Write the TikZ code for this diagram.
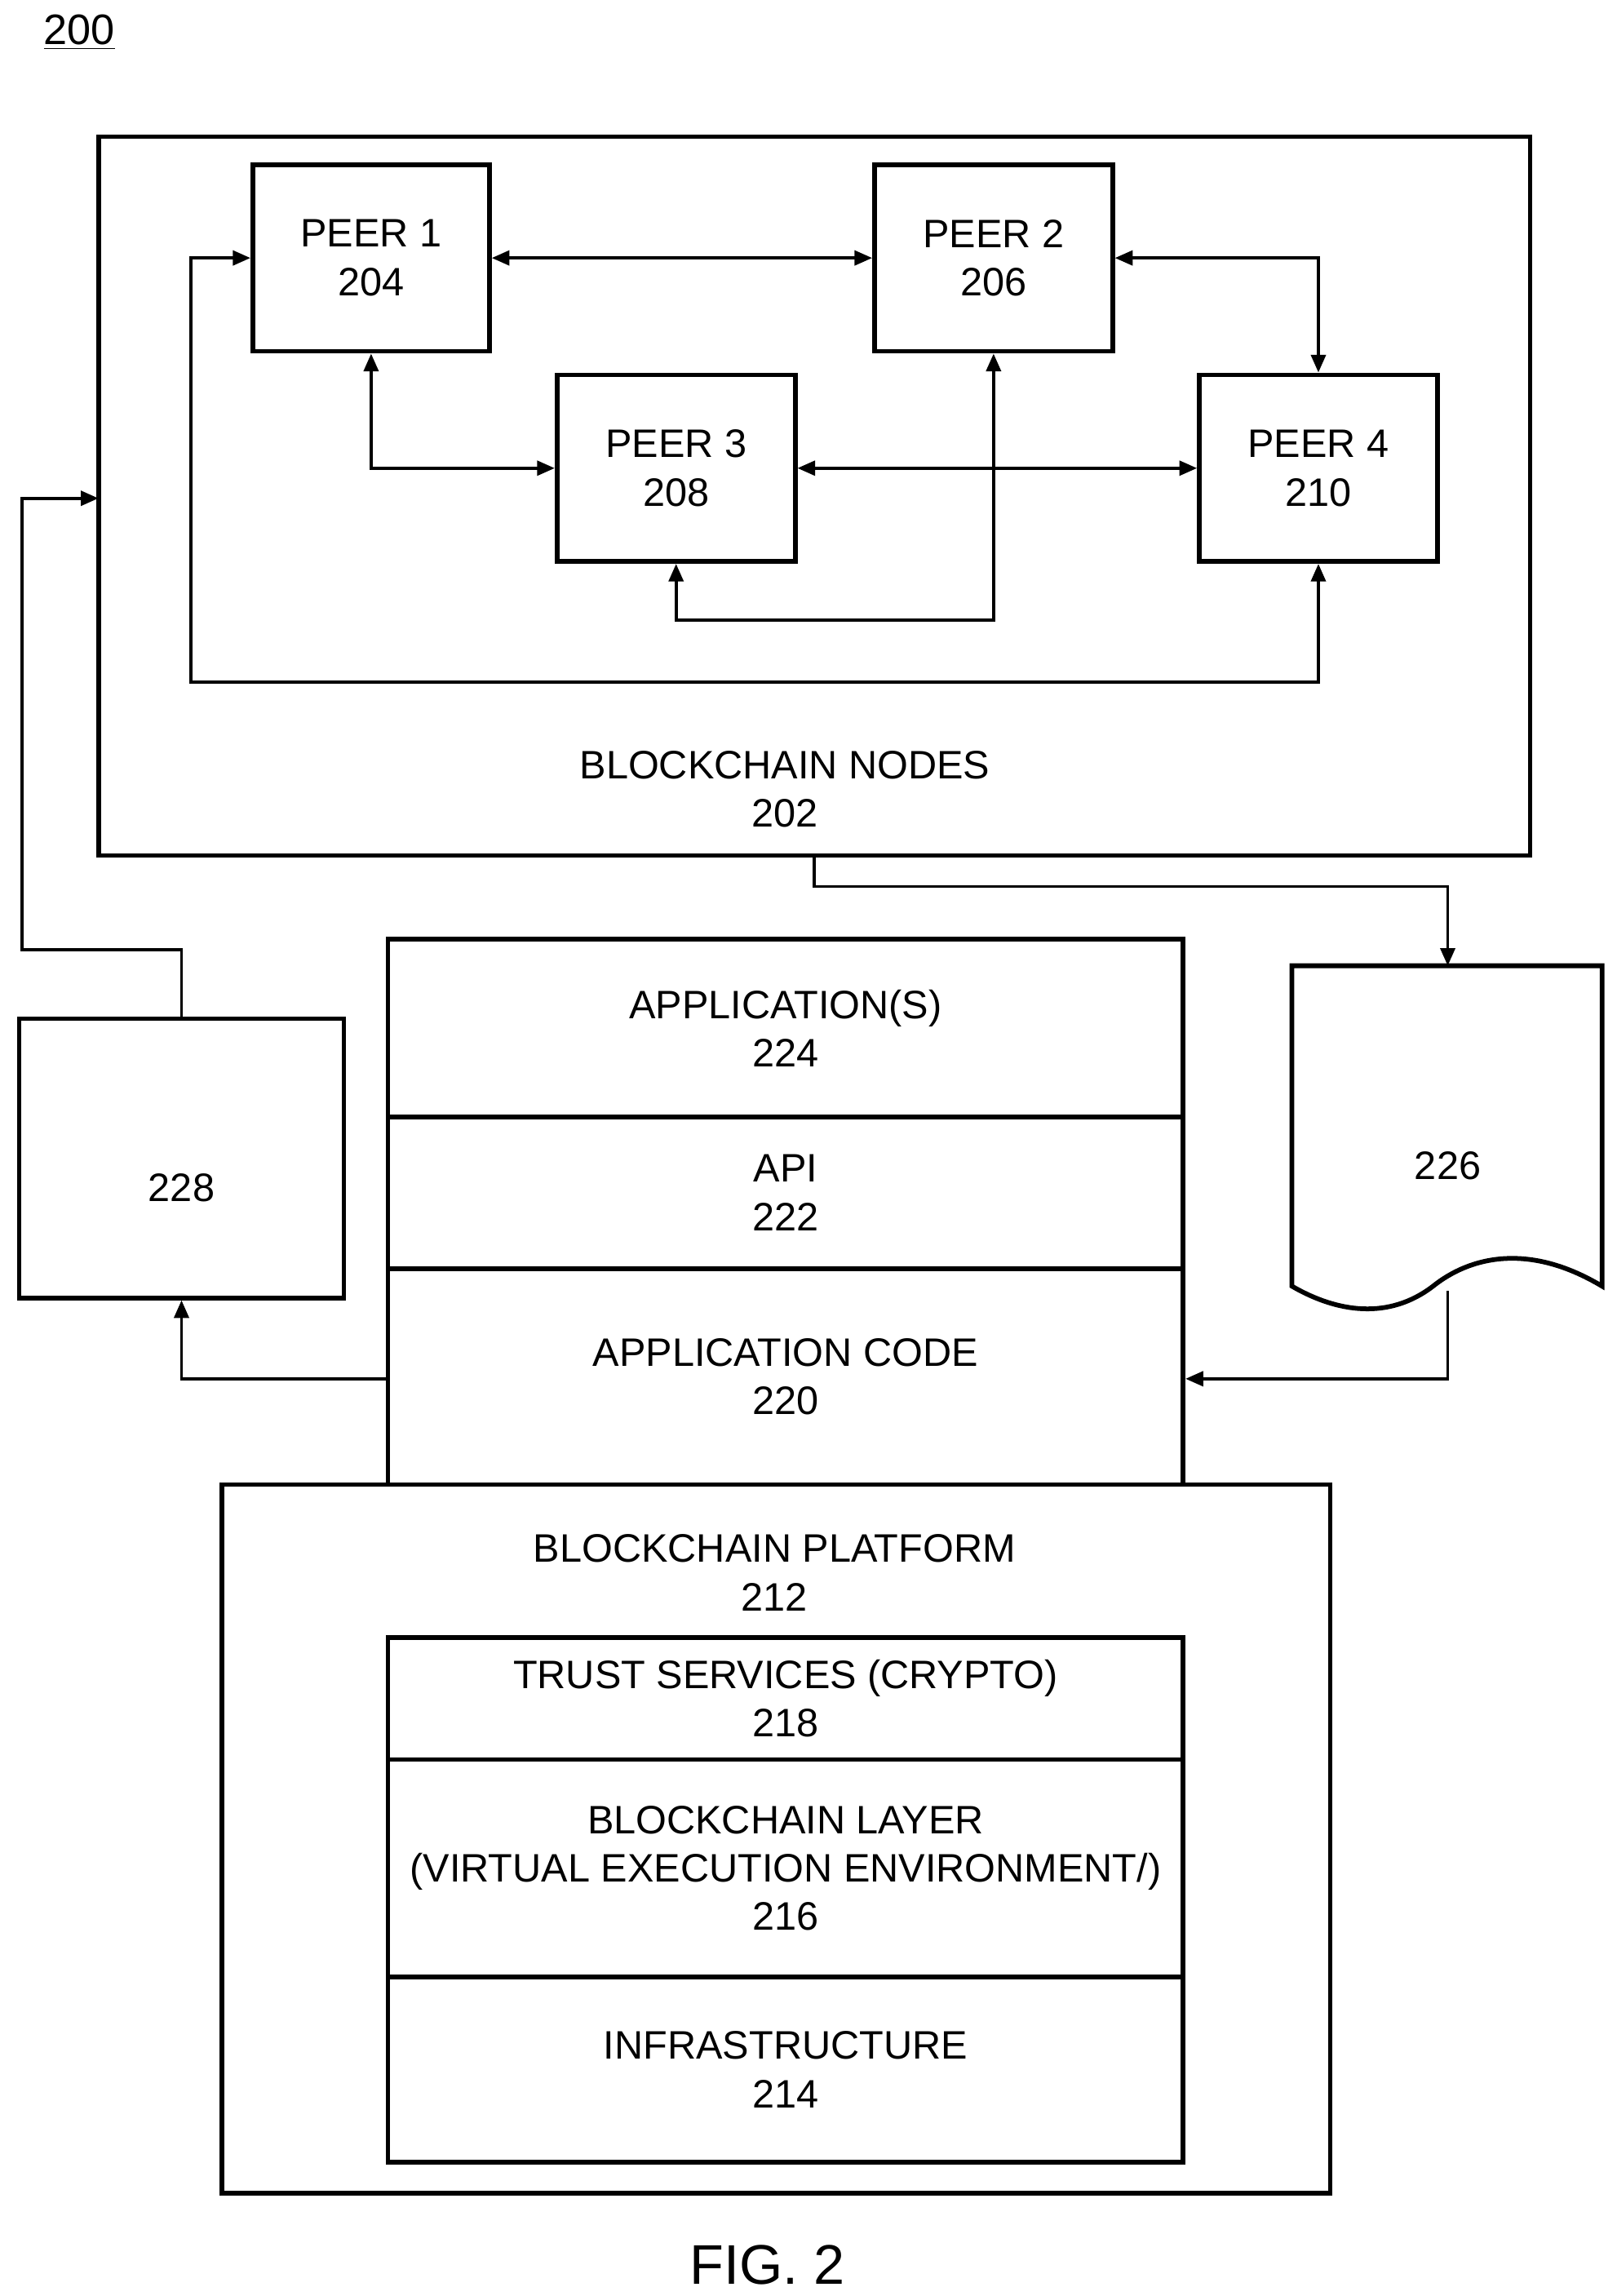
\documentclass[tikz,border=0pt]{standalone}
\usepackage{fontspec}
\setmainfont{Liberation Sans}
\usetikzlibrary{arrows.meta}
\begin{document}
\begin{tikzpicture}[x=0.5pt,y=-0.5pt,
  box/.style={draw,line width=1.6pt},
  txt/.style={font=\fontsize{13.5}{16.5}\selectfont,align=center},
  con/.style={line width=1pt,-{Triangle[length=6pt,width=5pt]}},
  bi/.style={line width=1pt,{Triangle[length=6pt,width=5pt]}-{Triangle[length=6pt,width=5pt]}}]
\useasboundingbox (0,0) rectangle (1100,1562);
\node[font=\fontsize{14.5}{17}\selectfont] (l200) at (54,22) {\underline{200}};
\draw[box] (67,93) rectangle (1041,582);
\coordinate (outer) at (67,339);
\node[txt] (n202) at (534,537) {BLOCKCHAIN NODES\\202};
\node[box,txt,minimum width=80.5pt,minimum height=63.5pt] (p1) at (252.5,175.5) {PEER 1\\204};
\node[box,txt,minimum width=81pt,minimum height=63.5pt] (p2) at (676,175.5) {PEER 2\\206};
\node[box,txt,minimum width=81pt,minimum height=63.5pt] (p3) at (460,318.5) {PEER 3\\208};
\node[box,txt,minimum width=81pt,minimum height=63.5pt] (p4) at (897,318.5) {PEER 4\\210};
\draw[bi] (p1.east) -- (p2.west);
\draw[bi] (p2.east) -- (897,175.5) -- (p4.north);
\draw[bi] (p1.south) |- (p3.west);
\draw[bi] (p3.east) -- (p4.west);
\draw[bi] (p2.south) |- (460,422) -- (p3.south);
\draw[bi] (p1.west) -- (130,175.5) |- (897,464) -- (p4.south);
\node[box,txt,minimum width=270.5pt,minimum height=60.5pt] (a224) at (534.5,699.5) {APPLICATION(S)\\224};
\node[box,txt,minimum width=270.5pt,minimum height=51.5pt] (a222) at (534.5,811.5) {API\\222};
\node[box,txt,minimum width=270.5pt,minimum height=73.5pt] (a220) at (534.5,936.5) {APPLICATION CODE\\220};
\node[box,minimum width=110.5pt,minimum height=95pt] (b228) at (123.5,788) {};
\node[txt] (t228) at (123.5,808) {228};
\draw[box] (879,657) -- (1090,657) -- (1090,875) .. controls (1040,845) and (1000,855) .. (975,875) .. controls (945,898) and (910,893) .. (879,875) -- cycle;
\node[txt] (d226) at (985,793) {226};
\coordinate (d226b) at (985,878);
\draw[con] (b228.north) -- (b228.north |- 0,646) -- (15,646) |- (outer);
\draw[con] (554,582) |- (985,603) -- (985,657);
\draw[con] (a220.west |- 0,938) -| (b228.south);
\draw[con] (d226b) |- (a220.east |- 0,938);
\draw[box,fill=white] (151,1010) rectangle (905,1492);
\node[txt] (n212) at (527,1070) {BLOCKCHAIN PLATFORM\\212};
\node[box,txt,minimum width=270.5pt,minimum height=41.5pt] (t218) at (534.5,1155.5) {TRUST SERVICES (CRYPTO)\\218};
\node[box,txt,minimum width=270.5pt,minimum height=74pt] (l216) at (534.5,1271) {BLOCKCHAIN LAYER\\(VIRTUAL EXECUTION ENVIRONMENT/)\\216};
\node[box,txt,minimum width=270.5pt,minimum height=63pt] (i214) at (534.5,1408) {INFRASTRUCTURE\\214};
\node[font=\fontsize{19}{22}\selectfont] (fig) at (522,1541) {FIG. 2};
\end{tikzpicture}
\end{document}
